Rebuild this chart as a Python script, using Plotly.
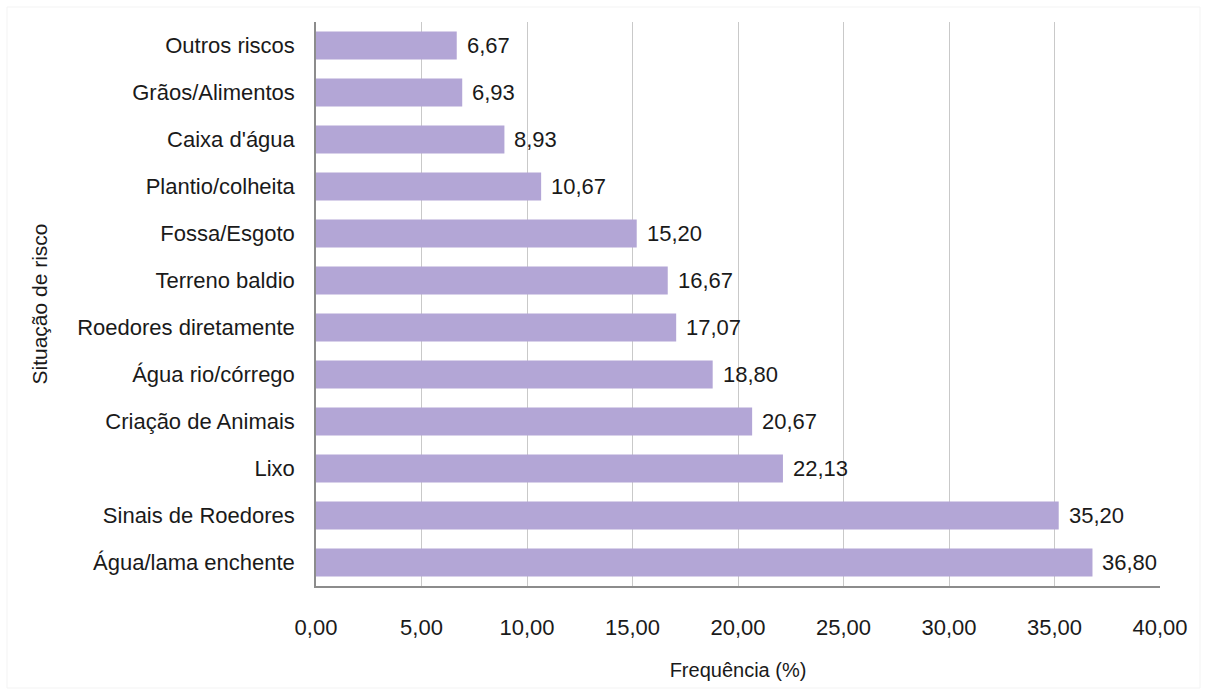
import plotly.graph_objects as go

# Risk situations, listed top to bottom as displayed
categorias = [
    "Outros riscos",
    "Grãos/Alimentos",
    "Caixa d'água",
    "Plantio/colheita",
    "Fossa/Esgoto",
    "Terreno baldio",
    "Roedores diretamente",
    "Água rio/córrego",
    "Criação de Animais",
    "Lixo",
    "Sinais de Roedores",
    "Água/lama enchente",
]
frequencias = [6.67, 6.93, 8.93, 10.67, 15.20, 16.67, 17.07, 18.80, 20.67, 22.13, 35.20, 36.80]

x_ticks = [0, 5, 10, 15, 20, 25, 30, 35, 40]
x_tick_labels = ["0,00", "5,00", "10,00", "15,00", "20,00", "25,00", "30,00", "35,00", "40,00"]

FONT = "Liberation Sans, Arial, sans-serif"
TEXT_COLOR = "#1a1a1a"
BAR_COLOR = "#B3A6D6"


def fmt_br(v):
    return f"{v:.2f}".replace(".", ",")


fig = go.Figure()
fig.add_trace(
    go.Bar(
        x=frequencias,
        y=categorias,
        orientation="h",
        marker=dict(color=BAR_COLOR, line=dict(width=0)),
        width=0.6,
        hoverinfo="skip",
    )
)

# Value labels to the right of each bar
for cat, val in zip(categorias, frequencias):
    fig.add_annotation(
        x=val,
        y=cat,
        xref="x",
        yref="y",
        text=fmt_br(val),
        showarrow=False,
        xanchor="left",
        xshift=8,
        font=dict(family=FONT, size=22, color=TEXT_COLOR),
    )

fig.update_layout(
    width=1205,
    height=694,
    margin=dict(l=316, r=45, t=22, b=108),
    paper_bgcolor="white",
    plot_bgcolor="white",
    showlegend=False,
    font=dict(family=FONT, size=22, color=TEXT_COLOR),
    xaxis=dict(
        range=[0, 40],
        tickvals=x_ticks,
        ticktext=x_tick_labels,
        showgrid=True,
        gridcolor="#C9C9C9",
        gridwidth=1,
        zeroline=False,
        showline=True,
        linecolor="#8C8C8C",
        linewidth=1.5,
        ticks="",
        ticklabelstandoff=21,
        tickfont=dict(family=FONT, size=22, color=TEXT_COLOR),
        title=dict(
            text="Frequência (%)",
            font=dict(family=FONT, size=20, color=TEXT_COLOR),
            standoff=24,
        ),
    ),
    yaxis=dict(
        autorange="reversed",
        showgrid=False,
        zeroline=False,
        showline=True,
        linecolor="#8C8C8C",
        linewidth=1.5,
        ticks="",
        ticklabelstandoff=15,
        tickfont=dict(family=FONT, size=22, color=TEXT_COLOR),
        title=dict(
            text="Situação de risco",
            font=dict(family=FONT, size=21, color=TEXT_COLOR),
            standoff=24,
        ),
    ),
)

# Faint frame around the whole chart area
fig.add_shape(
    type="rect",
    xref="paper",
    yref="paper",
    x0=-309 / 844,
    x1=1 + 40 / 844,
    y0=-102 / 564,
    y1=1 + 15 / 564,
    line=dict(color="#F3F3F3", width=1),
    layer="below",
)

fig.write_html("out.html")
